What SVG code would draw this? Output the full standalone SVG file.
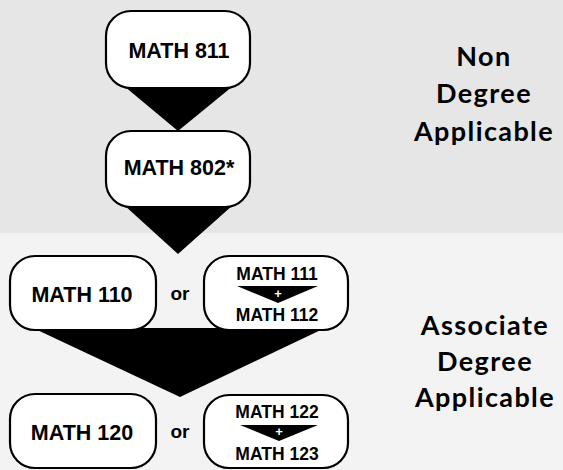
<svg xmlns="http://www.w3.org/2000/svg" width="563" height="470" viewBox="0 0 563 470">
<style>
.box{fill:#fff;stroke:#000;stroke-width:2.2}
.t{font-family:"Liberation Sans",Arial,sans-serif;font-weight:bold;fill:#000;text-anchor:middle}
.big{font-size:21.5px}
.sm{font-size:17.5px}
.or{font-size:19px}
.lab{font-family:Lato,"Liberation Sans",sans-serif;font-weight:bold;font-size:27px;letter-spacing:1.4px;fill:#000;text-anchor:middle}
</style>
<rect x="0" y="0" width="563" height="233" fill="#e6e6e6"/>
<rect x="0" y="233" width="563" height="237" fill="#f3f3f3"/>
<g id="connectors">
<polygon points="124,86 233,86 178,131" fill="#000"/>
<polygon points="124,205 233,205 178,254" fill="#000"/>
<polygon points="33,328 325,328 180,397" fill="#000"/>
</g>
<g id="math811">
<rect class="box" x="106" y="11" width="144" height="77" rx="25"/>
<text class="t big" x="179" y="58">MATH 811</text>
</g>
<g id="math802">
<rect class="box" x="106" y="131" width="144" height="76" rx="25"/>
<text class="t big" x="179" y="175">MATH 802*</text>
</g>
<g id="math110">
<rect class="box" x="10" y="256" width="146" height="74" rx="25"/>
<text class="t big" x="82" y="302">MATH 110</text>
</g>
<g id="or1"><text class="t or" x="180" y="300">or</text></g>
<g id="math111-112">
<rect class="box" x="204" y="256" width="144" height="74" rx="25"/>
<text class="t sm" x="277" y="280">MATH 111</text>
<polygon points="237,286 318,286 278,303" fill="#000"/>
<text class="t" x="278" y="297.5" font-size="13" style="fill:#fff">+</text>
<text class="t sm" x="277" y="321">MATH 112</text>
</g>
<g id="math120">
<rect class="box" x="10" y="394" width="146" height="74" rx="25"/>
<text class="t big" x="82" y="440">MATH 120</text>
</g>
<g id="or2"><text class="t or" x="180" y="438">or</text></g>
<g id="math122-123">
<rect class="box" x="204" y="395" width="144" height="73" rx="25"/>
<text class="t sm" x="277" y="418">MATH 122</text>
<polygon points="240,425 318,425 279,441" fill="#000"/>
<text class="t" x="279" y="436" font-size="13" style="fill:#fff">+</text>
<text class="t sm" x="277" y="460">MATH 123</text>
</g>
<g id="label-non">
<text class="lab" x="484" y="66">Non</text>
<text class="lab" x="484" y="103">Degree</text>
<text class="lab" x="484" y="141">Applicable</text>
</g>
<g id="label-assoc">
<text class="lab" x="485" y="335">Associate</text>
<text class="lab" x="485" y="371">Degree</text>
<text class="lab" x="485" y="407">Applicable</text>
</g>
</svg>
